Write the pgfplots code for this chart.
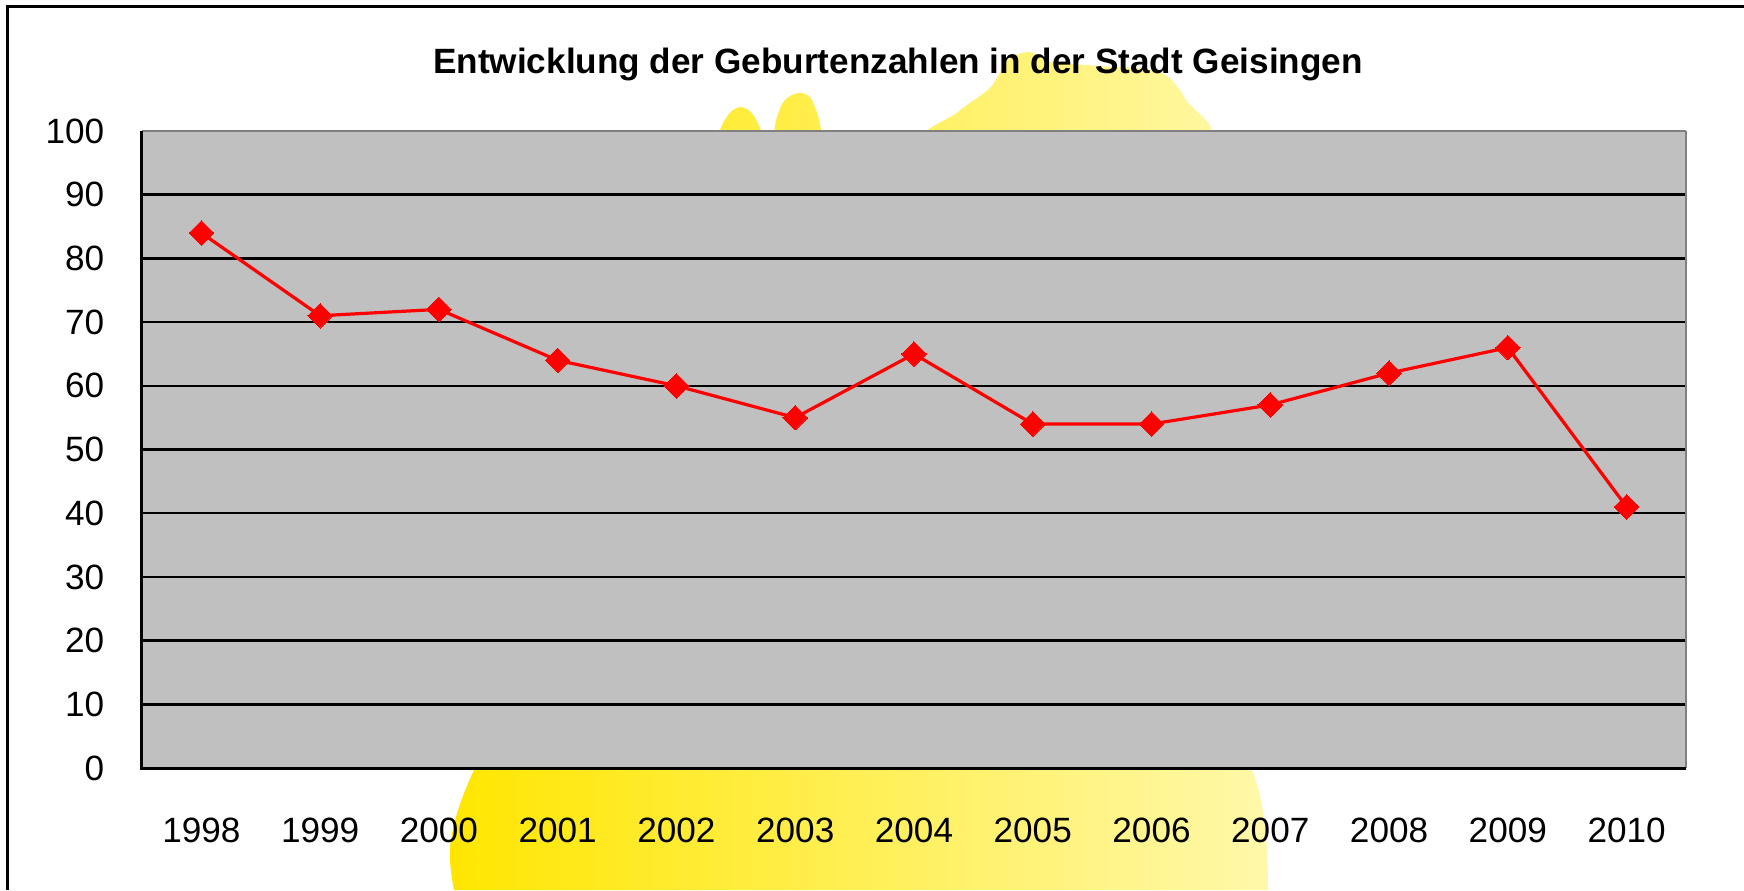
\documentclass[border=0pt]{standalone}
\usepackage{pgfplots}
\pgfplotsset{compat=1.18}
\usepackage{fontspec}
\setmainfont{Liberation Sans}
\definecolor{plotgray}{RGB}{192,192,192}
\definecolor{spinegray}{RGB}{128,128,128}
\definecolor{yelA}{RGB}{255,230,0}
\definecolor{yelB}{RGB}{255,240,100}
\definecolor{yelC}{RGB}{255,248,170}
\pgfplotstableread{
x year val
0 1998 84
1 1999 71
2 2000 72
3 2001 64
4 2002 60
5 2003 55
6 2004 65
7 2005 54
8 2006 54
9 2007 57
10 2008 62
11 2009 66
12 2010 41
}\births
\begin{document}
\begin{tikzpicture}
\begin{scope}[x=0.1mm,y=-0.1mm]
\useasboundingbox (0,0) rectangle (1744,890);
\fill[white] (0,0) rectangle (1744,890);
% decorative yellow background shape
\shade[left color=yelA, middle color=yelB, right color=yelC]
  plot[smooth cycle, tension=0.6] coordinates {(721,140) (726,118) (740,107) (754,116) (760,140)}
  plot[smooth cycle, tension=0.6] coordinates {(777,140) (781,106) (798,93) (813,102) (819,140)}
  plot[smooth cycle, tension=0.5] coordinates {(936,140) (958,112) (990,88) (1008,60) (1030,52) (1050,62) (1100,66) (1160,72) (1186,100) (1198,140)}
  (476,300) -- (474,770) .. controls (460,800) and (448,835) .. (450,860) .. controls (451,875) and (453,885) .. (454,890) -- (1268,890) .. controls (1268,840) and (1264,800) .. (1252,770) -- (1245,300) -- cycle;
% outer frame (left and top)
\draw[line width=0.3mm] (7,890) -- (7,6) -- (1744,6);
\node[font=\bfseries\fontsize{10}{12}\selectfont, anchor=center] at (898,64) {Entwicklung der Geburtenzahlen in der Stadt Geisingen};
\end{scope}
\begin{axis}[
  at={(14.2mm,-76.8mm)}, anchor=south west,
  scale only axis, width=154.4mm, height=63.7mm,
  xmin=-0.5, xmax=12.5, ymin=0, ymax=100,
  xtick={0,...,12},
  xticklabels={1998,1999,2000,2001,2002,2003,2004,2005,2006,2007,2008,2009,2010},
  ytick={0,10,...,100},
  major tick length=0pt,
  ymajorgrids,
  grid style={black, line width=0.25mm},
  axis line style={draw=none},
  axis background/.style={fill=plotgray},
  tick label style={font=\fontsize{10}{12}\selectfont},
  /pgf/number format/assume math mode=true,
  yticklabel style={inner sep=0pt, anchor=east, xshift=-3.7mm},
  xticklabel style={inner sep=0pt, anchor=north, yshift=-4.95mm},
  clip=false,
]
\addplot[color=red, line width=0.32mm, mark=square*, mark size=0.87mm, mark options={fill=red, draw=red, line width=0pt, rotate=45}] table[x=x, y=val] {\births};
\draw[spinegray, line width=0.25mm] (rel axis cs:0,1) -- (rel axis cs:1,1);
\draw[spinegray, line width=0.15mm] (rel axis cs:1,0) -- (rel axis cs:1,1);
\draw[black, line width=0.3mm] (rel axis cs:0,1) -- (rel axis cs:0,0) -- (rel axis cs:1,0);
\end{axis}
\end{tikzpicture}
\end{document}
